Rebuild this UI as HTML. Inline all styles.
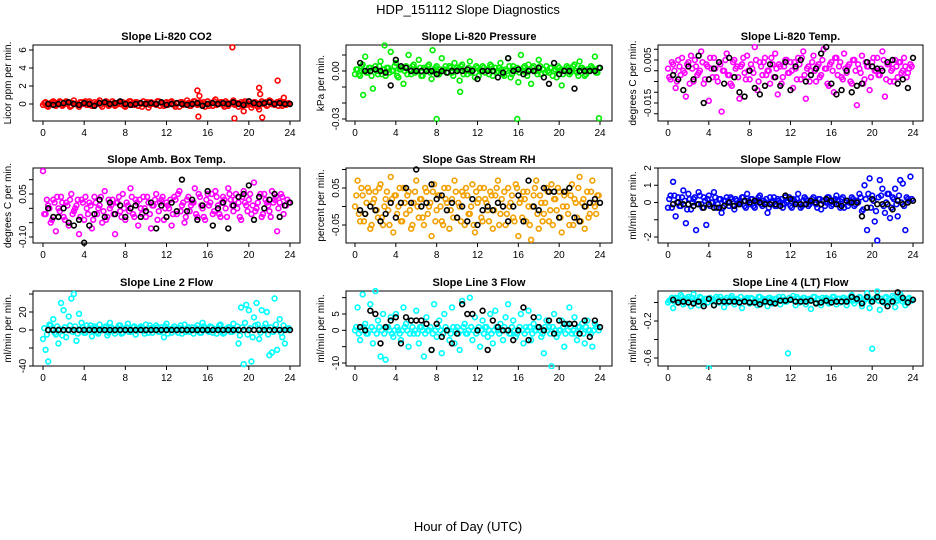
<!DOCTYPE html>
<html><head><meta charset="utf-8"><style>
html,body{margin:0;padding:0;background:#fff;}
svg{display:block;font-family:"Liberation Sans",sans-serif;}
</style></head><body>
<svg id="chart" width="936" height="540" viewBox="0 0 936 540">
<text x="468" y="14" text-anchor="middle" font-size="13">HDP_151112  Slope Diagnostics</text>
<text x="468" y="531" text-anchor="middle" font-size="13">Hour of Day (UTC)</text>
</svg>
<script>
const hours=[0,0.25,0.5,0.75,1,1.25,1.5,1.75,2,2.25,2.5,2.75,3,3.25,3.5,3.75,4,4.25,4.5,4.75,5,5.25,5.5,5.75,6,6.25,6.5,6.75,7,7.25,7.5,7.75,8,8.25,8.5,8.75,9,9.25,9.5,9.75,10,10.25,10.5,10.75,11,11.25,11.5,11.75,12,12.25,12.5,12.75,13,13.25,13.5,13.75,14,14.25,14.5,14.75,15,15.25,15.5,15.75,16,16.25,16.5,16.75,17,17.25,17.5,17.75,18,18.25,18.5,18.75,19,19.25,19.5,19.75,20,20.25,20.5,20.75,21,21.25,21.5,21.75,22,22.25,22.5,22.75,23,23.25,23.5,23.75];
const hours2=[0.125,0.375,0.625,0.875,1.125,1.375,1.625,1.875,2.125,2.375,2.625,2.875,3.125,3.375,3.625,3.875,4.125,4.375,4.625,4.875,5.125,5.375,5.625,5.875,6.125,6.375,6.625,6.875,7.125,7.375,7.625,7.875,8.125,8.375,8.625,8.875,9.125,9.375,9.625,9.875,10.125,10.375,10.625,10.875,11.125,11.375,11.625,11.875,12.125,12.375,12.625,12.875,13.125,13.375,13.625,13.875,14.125,14.375,14.625,14.875,15.125,15.375,15.625,15.875,16.125,16.375,16.625,16.875,17.125,17.375,17.625,17.875,18.125,18.375,18.625,18.875,19.125,19.375,19.625,19.875,20.125,20.375,20.625,20.875,21.125,21.375,21.625,21.875,22.125,22.375,22.625,22.875,23.125,23.375,23.625,23.875];
const blkHours=[0.5,1,1.5,2,2.5,3,3.5,4,4.5,5,5.5,6,6.5,7,7.5,8,8.5,9,9.5,10,10.5,11,11.5,12,12.5,13,13.5,14,14.5,15,15.5,16,16.5,17,17.5,18,18.5,19,19.5,20,20.5,21,21.5,22,22.5,23,23.5,24];
const xTicks=[0,4,8,12,16,20,24];

const co2Vals=[-0.1,0.2,-0.3,0.1,0.3,-0.2,0.0,0.2,-0.1,0.3,0.1,-0.2,0.4,0.0,-0.3,0.2,0.1,-0.1,0.3,-0.2,0.2,0.0,0.4,-0.3,0.1,0.2,-0.1,0.3,-0.2,0.1,0.0,0.2,-0.3,0.1,0.3,-0.1,0.2,-0.2,0.0,0.3,0.1,-0.4,0.2,0.0,-0.1,0.3,0.1,-0.2,0.2,0.0,0.3,-0.1,0.1,-0.3,0.2,0.0,0.4,-0.2,0.1,0.3,-0.1,0.2,0.0,-0.3,0.3,0.1,-0.2,0.5,0.0,0.2,-0.1,0.3,-0.2,0.1,0.4,0.0,-0.3,0.2,0.1,-0.1,0.3,-0.4,0.2,0.0,-0.6,0.3,0.1,-0.2,0.4,0.0,-0.1,0.2,0.3,-0.2,0.1,0.0];
const co2Vals2=[0.1,-0.2,0.0,0.2,-0.1,0.1,0.3,-0.2,0.0,0.2,-0.3,0.1,0.0,-0.1,0.2,0.0,0.3,-0.1,0.1,-0.2,0.0,0.2,-0.1,0.1,0.3,-0.2,0.0,0.1,-0.1,0.2,0.0,-0.2,0.1,0.3,0.0,-0.1,0.2,0.1,-0.3,0.0,0.2,-0.1,0.1,0.0,0.3,-0.2,0.0,0.1,-0.1,0.2,0.0,-0.3,0.1,0.2,-0.1,0.0,0.1,-0.2,0.3,0.0,0.1,-0.1,0.2,0.0,-0.2,0.1,0.3,-0.1,0.0,0.2,-0.3,0.1,0.0,0.2,-0.1,0.1,0.0,-0.2,0.3,0.1,0.0,-0.1,0.2,-0.3,0.1,0.0,0.2,-0.1,0.3,0.0,0.1,-0.2,0.0,0.2,-0.1,0.1];
const co2OutH=[15,15.1,15.2,18.4,18.6,19.5,21,21.1,21.3,22.8,23.4];
const co2OutV=[1.5,-1.4,0.9,6.3,-1.6,-0.8,1.8,1.1,-1.5,2.6,0.7];
const co2Blk=[0,-0.1,0,0.1,0.2,0,-0.1,0.1,0,-0.2,0.1,0.2,0,0.1,0.3,0,-0.1,0,0.1,0,0.1,0,0.2,-0.1,0,0.1,0,-0.1,0,0.1,-0.2,0,0.1,0,0.1,0,0.2,0,-0.1,0.3,0.1,0,0.1,0.2,0,0.1,0,0];

const presVals=[-0.002,0.001,-0.003,0.004,0.009,-0.001,0.002,-0.011,0.003,-0.002,0.006,0.001,-0.003,0.002,0.012,0.000,0.005,-0.004,0.001,-0.008,0.003,0.010,-0.002,0.004,0.001,0.007,-0.003,0.002,0.000,0.004,-0.005,0.001,0.003,-0.002,0.008,0.001,-0.001,0.003,-0.001,0.005,0.002,-0.006,0.004,0.000,-0.002,0.006,0.001,-0.004,0.002,0.000,0.003,-0.001,0.001,0.004,-0.003,0.002,0.000,0.005,-0.002,0.001,0.008,-0.004,0.003,0.000,-0.007,0.010,0.002,-0.001,0.004,-0.008,0.003,0.000,0.007,-0.002,0.001,0.003,-0.001,0.002,0.000,-0.004,0.002,-0.009,0.001,0.003,-0.002,0.000,0.004,-0.001,0.006,0.002,-0.003,0.001,0.000,0.002,0.009,-0.001];
const presVals2=[0.001,-0.002,0.003,0.000,-0.001,0.002,-0.003,0.001,0.000,0.003,-0.002,0.001,0.002,-0.001,0.000,0.003,-0.003,0.001,0.002,0.000,-0.002,0.001,0.003,-0.001,0.000,0.002,-0.003,0.001,0.003,-0.001,0.000,0.002,-0.002,0.001,0.000,0.003,-0.001,0.002,-0.003,0.000,0.001,0.003,-0.002,0.000,0.002,-0.001,0.001,0.003,-0.003,0.000,0.002,0.001,-0.002,0.003,0.000,-0.001,0.002,0.001,-0.003,0.000,0.003,-0.002,0.001,0.002,-0.001,0.000,0.003,-0.003,0.001,0.002,0.000,-0.002,0.003,0.001,-0.001,0.000,0.002,-0.003,0.001,0.003,0.000,-0.002,0.001,0.002,-0.001,0.003,0.000,-0.003,0.002,0.001,-0.002,0.000,0.003,0.001,-0.001,0.002];
const presOutH=[8,15.9,23.9,0.8,10.3,2.9,7.6];
const presOutV=[-0.030,-0.030,-0.0295,-0.015,-0.013,0.016,0.013];
const presBlk=[0.005,0,0,0.001,0,-0.001,-0.009,0.007,0.003,0.002,0,0,0,0,0,-0.002,0,-0.001,0,0,0,0.001,0,-0.005,0,0,0,-0.004,-0.001,0.008,0,0.001,-0.002,0,0,0.002,-0.004,-0.008,0.005,-0.002,0,0,-0.011,0,0,0,0,0.002];

const tempVals=[0.001,-0.004,0.003,-0.008,0.005,-0.002,0.000,-0.012,0.004,0.007,-0.005,0.002,-0.001,0.009,-0.006,0.003,-0.014,0.001,0.006,-0.003,0.004,-0.019,0.000,0.008,-0.002,-0.007,0.005,0.002,-0.013,0.003,-0.001,0.007,-0.004,0.001,0.011,-0.009,0.004,-0.002,0.006,0.000,-0.006,0.003,0.008,-0.011,0.002,-0.003,0.005,-0.001,0.004,-0.008,0.001,0.006,-0.004,0.009,-0.013,0.002,0.000,0.007,-0.005,0.003,-0.002,0.010,0.001,-0.007,0.004,-0.010,0.006,0.002,-0.003,0.008,-0.001,0.003,-0.006,0.005,-0.016,0.001,0.007,-0.004,0.002,-0.009,0.004,0.000,0.006,-0.002,0.009,-0.012,0.003,-0.005,0.001,0.005,-0.003,0.004,0.000,0.002,-0.001,0.003];
const tempVals2=[-0.003,0.004,0.000,-0.005,0.002,0.006,-0.001,0.003,-0.006,0.001,0.005,-0.002,0.000,0.004,-0.004,0.002,0.006,-0.003,0.001,-0.005,0.003,0.000,0.005,-0.002,-0.006,0.004,0.001,-0.003,0.002,0.006,-0.004,0.000,0.003,-0.001,0.005,-0.005,0.002,0.004,-0.002,0.000,0.006,-0.003,0.001,0.003,-0.006,0.002,0.005,-0.001,0.000,0.004,-0.004,0.003,0.006,-0.002,0.001,-0.005,0.004,0.000,0.002,-0.003,0.005,0.001,-0.006,0.003,0.000,0.006,-0.002,0.004,-0.004,0.001,0.002,-0.005,0.005,0.000,0.003,-0.001,-0.006,0.004,0.002,-0.003,0.006,0.000,-0.002,0.001,0.005,-0.004,0.003,0.000,-0.005,0.002,0.004,-0.001,0.006,-0.003,0.001,0.002];
const tempBlk=[-0.002,-0.004,-0.009,0.002,-0.004,0.007,-0.015,-0.004,0.001,0.004,-0.006,0.006,-0.003,-0.010,-0.012,0.000,-0.008,-0.011,-0.007,0.003,-0.003,-0.007,0.004,-0.009,0.002,0.005,-0.005,-0.002,0.001,0.008,0.011,-0.006,-0.011,-0.009,0.000,-0.010,-0.007,-0.006,0.004,0.002,0.001,0.000,0.004,0.005,-0.006,-0.004,-0.008,0.006];

const ambVals=[0.13,-0.02,0.01,-0.05,0.03,-0.08,0.00,0.04,-0.03,0.02,-0.06,0.05,-0.01,0.01,-0.09,0.03,-0.04,0.00,0.02,-0.07,0.04,-0.02,0.01,-0.05,0.06,-0.03,0.00,0.03,-0.09,0.02,-0.01,0.05,-0.04,0.01,0.07,-0.02,0.03,-0.06,0.00,0.04,-0.03,0.02,-0.07,0.01,0.05,-0.01,0.03,-0.04,0.02,0.00,-0.06,0.04,-0.02,0.06,0.01,-0.05,0.03,-0.01,0.02,0.07,-0.03,0.04,0.00,-0.04,0.05,0.02,-0.02,0.06,0.01,-0.03,0.04,0.00,0.07,0.03,-0.01,0.05,0.02,-0.04,0.06,0.01,0.03,-0.02,0.09,0.00,0.04,-0.03,0.05,0.02,-0.01,0.06,0.03,-0.08,0.02,0.04,0.01,0.03];
const ambVals2=[-0.02,0.03,0.00,-0.04,0.02,0.04,-0.01,0.02,-0.04,0.01,0.03,-0.02,0.00,0.03,-0.03,0.02,0.04,-0.02,0.01,-0.04,0.02,0.00,0.04,-0.01,-0.04,0.03,0.01,-0.02,0.02,0.04,-0.03,0.00,0.02,-0.01,0.04,-0.03,0.02,0.03,-0.02,0.00,0.04,-0.02,0.01,0.03,-0.04,0.02,0.04,0.00,0.01,0.03,-0.02,0.03,0.05,-0.01,0.02,-0.03,0.04,0.01,0.02,-0.02,0.05,0.01,-0.03,0.03,0.01,0.05,-0.01,0.04,-0.02,0.02,0.03,-0.03,0.05,0.01,0.03,0.00,-0.03,0.04,0.02,-0.01,0.05,0.01,-0.01,0.02,0.05,-0.02,0.03,0.01,-0.03,0.02,0.04,0.00,0.05,-0.02,0.01,0.02];
const ambBlk=[0.00,-0.03,-0.03,0.00,-0.05,-0.06,-0.04,-0.12,-0.06,-0.02,0.03,-0.03,0.02,-0.02,0.01,-0.03,0.00,0.01,-0.03,-0.01,0.02,-0.07,0.01,-0.03,0.02,-0.01,0.10,-0.01,0.03,-0.04,0.01,0.06,-0.06,0.00,0.02,-0.07,0.01,0.04,0.05,0.08,-0.04,0.04,0.00,0.03,0.05,-0.03,0.01,0.02];

const rhVals=[0.00,0.07,-0.04,0.03,-0.02,0.05,-0.06,0.01,0.04,-0.03,0.06,-0.05,0.02,-0.01,0.08,-0.07,0.03,0.00,-0.04,0.05,-0.02,0.04,-0.06,0.01,0.07,-0.03,0.02,-0.05,0.04,0.00,-0.08,0.06,-0.01,0.03,-0.04,0.05,0.01,-0.06,0.02,0.07,-0.03,0.00,0.04,-0.05,0.03,-0.02,0.06,-0.07,0.01,0.05,-0.04,0.02,-0.01,0.04,-0.06,0.03,0.07,-0.02,0.00,-0.05,0.05,0.01,-0.03,0.06,-0.08,0.02,0.04,-0.04,0.00,-0.09,0.03,0.07,-0.06,0.01,-0.02,0.05,-0.04,0.06,0.02,-0.01,0.04,-0.07,0.03,0.00,-0.05,0.06,0.02,-0.03,0.08,0.01,-0.06,0.04,-0.02,0.07,0.00,0.03];
const rhVals2=[0.03,-0.02,0.05,-0.04,0.01,0.04,-0.05,0.02,-0.01,0.05,-0.03,0.00,0.04,-0.05,0.02,0.03,-0.02,0.05,-0.04,0.01,0.03,-0.01,-0.05,0.04,0.00,0.02,-0.03,0.05,-0.02,0.01,0.04,-0.04,0.03,0.00,-0.05,0.02,0.05,-0.01,-0.03,0.04,0.01,-0.04,0.03,0.05,-0.02,0.00,-0.05,0.04,0.02,-0.03,0.05,0.01,-0.04,0.03,-0.01,0.05,-0.05,0.02,0.04,-0.02,0.00,0.03,-0.04,0.05,0.01,-0.03,0.02,0.04,-0.05,0.00,0.05,-0.02,0.03,-0.04,0.01,0.04,-0.01,-0.05,0.02,0.05,-0.03,0.00,0.04,-0.02,0.03,-0.05,0.01,0.05,-0.04,0.02,0.00,-0.03,0.04,0.01,-0.02,0.03];
const rhBlk=[-0.01,-0.02,0.00,-0.01,-0.04,-0.02,0.01,-0.03,0.01,0.05,0.01,0.10,0.00,0.01,0.06,0.02,0.03,-0.01,0.01,-0.03,0.00,-0.04,0.02,-0.05,-0.01,0.00,-0.01,0.01,0.00,-0.04,0.00,0.03,-0.04,0.07,0.00,-0.01,0.05,0.04,0.04,-0.03,0.04,0.05,-0.03,-0.04,0.00,0.01,0.02,0.01];

const flowVals=[-0.3,0.4,1.2,-0.8,0.3,-0.2,0.7,-1.2,0.5,-0.4,0.2,-1.6,0.6,-0.1,0.3,-1.3,0.4,0.0,0.6,-0.3,0.2,-0.6,0.1,0.3,-0.2,0.2,-0.4,0.1,0.0,0.3,-0.2,0.5,-0.1,0.2,-0.3,0.1,0.4,-0.2,0.0,-0.6,0.3,0.1,-0.2,0.2,0.0,-0.3,0.3,0.1,-0.2,0.2,0.0,0.5,-0.3,0.1,0.2,-0.2,0.0,0.3,-0.1,0.2,-0.4,0.1,0.0,0.3,-0.2,0.1,0.4,-0.1,0.2,-0.3,0.1,0.0,0.3,-0.2,0.1,0.5,-0.5,1.0,-1.6,1.4,0.4,-1.1,-2.2,1.3,0.8,-0.6,0.5,-0.9,0.3,0.8,-0.8,1.3,1.1,-1.6,0.2,1.5];
const flowVals2=[0.2,-0.3,0.4,0.0,-0.2,0.3,0.1,-0.4,0.2,0.0,0.3,-0.1,0.4,-0.3,0.1,0.2,-0.2,0.0,0.3,-0.1,0.2,-0.3,0.1,0.0,0.3,-0.2,0.2,-0.1,0.0,0.3,-0.3,0.1,0.2,-0.2,0.0,0.3,-0.1,0.1,0.2,-0.3,0.0,0.3,-0.2,0.1,0.2,-0.1,0.0,0.3,-0.3,0.1,0.2,0.0,-0.2,0.3,0.1,-0.1,0.2,0.0,-0.3,0.2,0.1,-0.2,0.3,0.0,-0.1,0.2,0.1,-0.3,0.3,0.0,-0.2,0.1,0.2,-0.1,0.0,0.3,-0.4,0.2,0.5,-0.3,0.1,-0.5,0.3,0.4,-0.2,0.0,0.5,-0.3,0.2,-0.1,0.4,0.0,-0.2,0.3,0.1,0.2];
const flowBlk=[-0.1,0.0,-0.1,-0.1,-0.2,-0.1,-0.3,-0.1,-0.3,-0.3,-0.2,0.0,-0.2,-0.1,0.1,0.0,0.1,0.0,-0.1,-0.1,-0.1,-0.2,0.4,0.2,-0.1,-0.1,-0.1,0.1,0.0,-0.1,0.2,0.1,-0.1,-0.2,0.1,0.0,0.0,-0.8,-0.3,0.2,-0.1,-0.1,-0.1,-0.4,0.1,-0.1,0.0,0.1];

const l2Vals=[-10,-22,-35,5,12,-5,-15,30,22,-8,15,35,40,-12,18,8,-3,5,2,-7,4,-2,6,0,3,-6,8,1,-4,2,5,-3,0,7,-2,3,-5,1,4,-1,6,-3,2,0,5,-2,3,-8,7,1,-3,4,0,2,-4,6,1,-2,3,0,5,-3,8,2,-1,4,-3,0,2,6,-4,1,3,-2,7,0,-15,25,-38,28,22,-35,14,30,-10,22,3,20,-28,-25,35,-22,12,-8,-15,0];
const l2Vals2=[2,-5,6,0,-3,4,1,-6,3,0,5,-2,4,-4,1,3,-3,0,5,-1,2,-4,1,0,4,-3,3,-1,0,5,-4,1,3,-2,0,4,-1,2,3,-4,0,5,-3,1,3,-2,0,4,-4,1,2,0,-3,5,1,-2,3,0,-4,2,1,-3,4,0,-2,3,1,-4,5,0,-3,1,3,-2,0,4,-6,3,8,-5,2,-8,5,6,-3,0,7,-5,3,-2,6,0,-3,5,1,2];
const l2Blk=[0,0,0,0,0,0,0,0,0,0,0,0,0,0,0,0,0,0,0,0,0,0,0,0,0,0,0,0,0,0,0,0,0,0,0,0,0,0,0,0,0,0,0,0,0,0,0,0];

const l3Vals=[0,7,-3,11,2,-1,8,-4,12,3,-8,5,-9,1,4,-2,5,0,-3,7,2,-5,3,-1,6,-4,1,-8,4,0,-6,8,-2,3,-7,5,0,-3,7,-4,1,-6,9,2,-1,10,-3,4,0,-5,3,1,-2,5,-4,6,0,2,-3,4,8,-1,3,-2,0,5,-4,1,6,-3,2,0,4,-2,-7,3,1,-11,5,-2,0,3,-5,2,7,-1,4,-3,1,2,-4,3,0,-5,2,1];
const l3Vals2=[1,-1,0,1,-1,0,1,0,-1,1,0,-1,1,0,-1,0,1,-1,0,1,0,-1,1,0,-1,1,0,-1,0,1,-1,0,1,0,-1,1,0,-1,1,0,-1,0,1,-1,0,1,0,-1,1,0,-1,1,0,-1,0,1,-1,0,1,0,-1,1,0,-1,1,0,-1,0,1,-1,0,1,0,-1,1,0,-1,1,0,-1,0,1,-1,0,1,0,-1,1,0,-1,1,0,-1,0,1,0];
const l3Blk=[1,0,6,5,-4,1,3,4,-4,4,3,3,3,2,-6,2,-2,0,-4,-1,8,5,5,0,6,-6,3,1,0,0,-3,0,7,-3,4,1,0,3,-1,3,2,2,2,-1,3,-2,3,1];

const l4Vals=[0.0,0.03,-0.06,0.05,0.02,0.08,-0.02,0.04,0.06,-0.04,0.09,0.01,-0.03,0.05,-0.01,0.04,-0.71,0.02,-0.03,0.06,0.00,0.03,-0.05,0.05,0.02,0.07,-0.02,0.04,0.01,-0.06,0.03,0.05,-0.01,0.04,0.02,-0.03,0.06,0.00,0.03,-0.04,0.05,-0.01,0.04,0.02,-0.02,0.06,0.01,-0.55,0.03,0.07,-0.03,0.04,0.01,0.05,-0.02,0.03,-0.07,0.06,0.00,0.04,-0.03,0.02,0.05,-0.01,0.03,0.06,-0.02,0.04,0.01,0.05,-0.03,0.03,0.08,-0.01,0.02,0.06,-0.04,0.03,0.10,-0.06,-0.50,0.04,0.12,-0.08,0.02,0.05,-0.01,0.03,0.07,-0.05,0.02,0.09,0.01,-0.03,0.04,0.02];
const l4Vals2=[0.02,0.05,0.01,0.04,0.03,0.06,0.00,0.04,0.02,0.05,0.03,0.01,0.06,0.02,0.04,0.00,0.05,0.03,0.01,0.04,0.06,0.02,0.03,0.00,0.05,0.04,0.01,0.03,0.06,0.02,0.04,0.01,0.05,0.00,0.03,0.06,0.02,0.04,0.01,0.05,0.03,0.00,0.04,0.06,0.02,0.03,0.01,0.05,0.04,0.02,0.06,0.00,0.03,0.05,0.01,0.04,0.02,0.06,0.03,0.00,0.05,0.04,0.01,0.03,0.06,0.02,0.04,0.00,0.05,0.03,0.01,0.06,0.02,0.04,0.03,0.05,0.00,0.04,0.06,0.01,0.03,0.05,0.02,0.04,0.00,0.06,0.03,0.01,0.05,0.02,0.04,0.06,0.03,0.00,0.05,0.02];
const l4Blk=[0.03,0.00,0.01,0.00,-0.01,0.01,-0.04,0.04,-0.03,0.01,0.01,0.01,0.01,0.00,0.01,0.00,0.00,-0.02,0.01,0.00,-0.01,0.02,0.02,0.03,0.01,0.01,0.01,0.02,-0.01,0.00,0.02,0.00,0.01,0.01,0.01,0.06,0.04,-0.01,0.06,0.01,0.06,0.01,-0.04,0.01,0.11,0.05,0.00,0.03];

const NS='http://www.w3.org/2000/svg';
const svg=document.getElementById('chart');
function mk(tag,attrs,parent){const e=document.createElementNS(NS,tag);for(const k in attrs)e.setAttribute(k,attrs[k]);(parent||svg).appendChild(e);return e;}

const cols=[{l:33,r:300,x0:43,x24:290},{l:346,r:612,x0:355,x24:600},{l:658,r:923,x0:668,x24:913}];
const rows=[{t:45,b:121},{t:168,b:243},{t:291,b:366}];
const panels=[
 {title:'Slope Li-820 CO2',yl:'Licor ppm per min.',c:0,r:0,color:'#ff0000',vals:co2Vals,vals2:co2Vals2,outH:co2OutH,outV:co2OutV,blk:co2Blk,refV:[0,6],refY:[104,50],ticks:[0,2,4,6],labels:['0','2','4','6']},
 {title:'Slope Li-820 Pressure',yl:'kPa per min.',c:1,r:0,color:'#00ee00',vals:presVals,vals2:presVals2,outH:presOutH,outV:presOutV,blk:presBlk,refV:[0,-0.03],refY:[71,119],ticks:[-0.03,-0.02,-0.01,0,0.01],labels:['-0.03','','','0.00','']},
 {title:'Slope Li-820 Temp.',yl:'degrees C per min.',c:2,r:0,color:'#ff00ff',vals:tempVals,vals2:tempVals2,outH:[],outV:[],blk:tempBlk,refV:[0.005,-0.015],refY:[60,103],ticks:[0.01,0.005,0,-0.005,-0.01,-0.015,-0.02],labels:['','0.005','','','','-0.015','']},
 {title:'Slope Amb. Box Temp.',yl:'degrees C per min.',c:0,r:1,color:'#ff00ff',vals:ambVals,vals2:ambVals2,outH:[],outV:[],blk:ambBlk,refV:[0.05,-0.1],refY:[194,237],ticks:[0.1,0.05,0,-0.05,-0.1],labels:['','0.05','','','-0.10']},
 {title:'Slope Gas Stream RH',yl:'percent per min.',c:1,r:1,color:'#f2a000',vals:rhVals,vals2:rhVals2,outH:[],outV:[],blk:rhBlk,refV:[0.05,-0.05],refY:[188,225],ticks:[0.1,0.05,0,-0.05],labels:['','0.05','','-0.05']},
 {title:'Slope Sample Flow',yl:'ml/min per min.',c:2,r:1,color:'#0000ff',vals:flowVals,vals2:flowVals2,outH:[],outV:[],blk:flowBlk,refV:[2,-2],refY:[168,237],ticks:[2,1,0,-1,-2],labels:['2','1','0','','-2']},
 {title:'Slope Line 2 Flow',yl:'ml/min per min.',c:0,r:2,color:'#00ffff',vals:l2Vals,vals2:l2Vals2,outH:[],outV:[],blk:l2Blk,refV:[20,-40],refY:[312,366],ticks:[40,20,0,-20,-40],labels:['','20','0','','-40']},
 {title:'Slope Line 3 Flow',yl:'ml/min per min.',c:1,r:2,color:'#00ffff',vals:l3Vals,vals2:l3Vals2,outH:[],outV:[],blk:l3Blk,refV:[5,-10],refY:[314,363],ticks:[10,5,0,-5,-10],labels:['','5','0','','-10']},
 {title:'Slope Line 4 (LT) Flow',yl:'ml/min per min.',c:2,r:2,color:'#00ffff',vals:l4Vals,vals2:l4Vals2,outH:[],outV:[],blk:l4Blk,refV:[-0.2,-0.6],refY:[321,358],ticks:[0,-0.2,-0.4,-0.6],labels:['','-0.2','','-0.6']}
];

panels.forEach((p,pi)=>{
  const C=cols[p.c],R=rows[p.r];
  const g=mk('g',{});
  
  
  const xs=h=>C.x0+(C.x24-C.x0)*h/24;
  const ys=v=>p.refY[0]+(v-p.refV[0])*(p.refY[1]-p.refY[0])/(p.refV[1]-p.refV[0]);
  const t=mk('text',{x:(C.l+C.r)/2,y:R.t-5,'text-anchor':'middle','font-size':'11','font-weight':'bold'},g);
  t.textContent=p.title;
  
  
  const box=mk('rect',{x:C.l,y:R.t,width:C.r-C.l,height:R.b-R.t,fill:'none',stroke:'#000','stroke-width':1},g);
  
  
  const clip=mk('clipPath',{id:'cp'+pi},g);
  mk('rect',{x:C.l-3,y:R.t-3,width:C.r-C.l+6,height:R.b-R.t+6},clip);
  const pts=mk('g',{'clip-path':'url(#cp'+pi+')'},g);
  
  
  const n=Math.min(hours.length,p.vals.length);
  for(let i=0;i<n;i++){
    const c=mk('circle',{cx:xs(hours[i]),cy:ys(p.vals[i]),r:2.4,fill:'none',stroke:p.color,'stroke-width':1.6},pts);
    
    
  }
  const n2=Math.min(hours2.length,p.vals2.length);
  for(let i=0;i<n2;i++){
    const c=mk('circle',{cx:xs(hours2[i]),cy:ys(p.vals2[i]),r:2.4,fill:'none',stroke:p.color,'stroke-width':1.6},pts);
    
    
  }
  for(let i=0;i<p.outH.length;i++){
    const c=mk('circle',{cx:xs(p.outH[i]),cy:ys(p.outV[i]),r:2.4,fill:'none',stroke:p.color,'stroke-width':1.6},pts);
    
    
  }
  const bp=mk('g',{'clip-path':'url(#cp'+pi+')'},g);
  
  
  const m=Math.min(blkHours.length,p.blk.length);
  for(let i=0;i<m;i++){
    const c=mk('circle',{cx:xs(blkHours[i]),cy:ys(p.blk[i]),r:2.4,fill:'none',stroke:'#000','stroke-width':1.6},bp);
    
    
  }
  xTicks.forEach(v=>{
    const x=xs(v);
    mk('line',{x1:x,x2:x,y1:R.b,y2:R.b+4,stroke:'#000'},g);
    const tl=mk('text',{x:x,y:R.b+15,'text-anchor':'middle','font-size':'10'},g);
    tl.textContent=v;
    
    
  });
  p.ticks.forEach((v,i)=>{
    const y=ys(v);
    mk('line',{x1:C.l-4,x2:C.l,y1:y,y2:y,stroke:'#000'},g);
    if(p.labels[i]){
      const tl=mk('text',{x:0,y:0,'text-anchor':'middle','font-size':'10',transform:'translate('+(C.l-7)+','+y+') rotate(-90)'},g);
      tl.textContent=p.labels[i];
      
      
    }
  });
  const yl=mk('text',{x:0,y:0,'text-anchor':'middle','font-size':'10',transform:'translate('+(C.l-22)+','+((R.t+R.b)/2)+') rotate(-90)'},g);
  yl.textContent=p.yl;
  
  
});
</script>
</body></html>
